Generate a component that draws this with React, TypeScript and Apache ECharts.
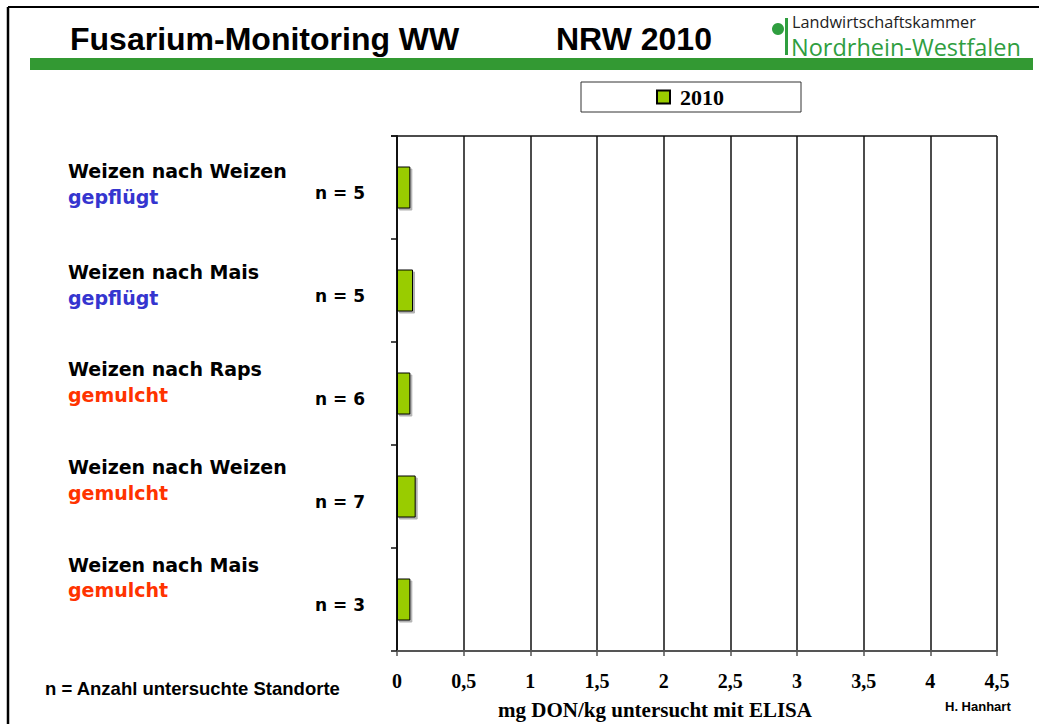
import React, { useEffect, useRef } from "react";
import * as echarts from "echarts";

// ---- data ----
const categories = ["Weizen nach Weizen", "Weizen nach Mais", "Weizen nach Raps", "Weizen nach Weizen", "Weizen nach Mais"];
const tillage = ["gepflügt", "gepflügt", "gemulcht", "gemulcht", "gemulcht"];
const sampleCounts = [5, 5, 6, 7, 3];
const don2010 = [0.1, 0.12, 0.1, 0.14, 0.1];
const seriesName = "2010";
const xMin = 0;
const xMax = 4.5;
const xStep = 0.5;

// ---- layout (positions only) ----
const nameY = [171, 272, 369, 467, 565];
const tillageY = [197, 298, 395, 493, 590];
const tillageColor: Record<string, string> = { "gepflügt": "#3535cf", "gemulcht": "#ff3300" };

const SANS = "'Liberation Sans', Arial, sans-serif";
const WIDE = "'DejaVu Sans', Verdana, sans-serif";
const SERIF = "'Liberation Serif', 'Times New Roman', serif";

export default function App() {
  const ref = useRef<HTMLDivElement>(null);
  useEffect(() => {
    if (!ref.current) return;
    const chart = echarts.init(ref.current, undefined, { renderer: "svg" });
    const yData = categories.map((c, i) => `${c} ${tillage[i]}`);
    const graphic: any[] = [
      // page frame
      { type: "line", shape: { x1: 8, y1: 7, x2: 1039, y2: 7 }, style: { stroke: "#000", lineWidth: 2 } },
      { type: "line", shape: { x1: 8, y1: 7, x2: 8, y2: 724 }, style: { stroke: "#000", lineWidth: 2.5 } },
      // green header bar
      { type: "rect", shape: { x: 30, y: 58, width: 1003, height: 12 }, style: { fill: "#339933" } },
      // title
      { type: "text", x: 70, y: 39, style: { text: "Fusarium-Monitoring WW", font: `bold 32px ${SANS}`, fill: "#000", verticalAlign: "middle" } },
      { type: "text", x: 556, y: 39, style: { text: "NRW 2010", font: `bold 32px ${SANS}`, fill: "#000", verticalAlign: "middle" } },
      // logo
      { type: "circle", shape: { cx: 778, cy: 29, r: 6 }, style: { fill: "#2f9e3f" } },
      { type: "rect", shape: { x: 785, y: 18, width: 3, height: 37 }, style: { fill: "#2f9e3f" } },
      { type: "text", x: 792, y: 21.5, style: { text: "Landwirtschaftskammer", font: `16.3px 'Open Sans', sans-serif`, lineHeight: 17, fill: "#222", verticalAlign: "middle" } },
      { type: "text", x: 791, y: 47, style: { text: "Nordrhein-Westfalen", font: `500 23.5px 'Open Sans', sans-serif`, lineHeight: 23, fill: "#2f9e3f", verticalAlign: "middle" } },
      // footnotes
      { type: "text", x: 45, y: 688, style: { text: "n = Anzahl untersuchte Standorte", font: `bold 18.5px ${SANS}`, fill: "#000", verticalAlign: "middle" } },
      { type: "text", x: 655, y: 710, style: { text: "mg DON/kg untersucht mit ELISA", font: `bold 21px ${SERIF}`, fill: "#000", align: "center", verticalAlign: "middle" } },
      { type: "text", x: 945, y: 706, style: { text: "H. Hanhart", font: `bold 13px ${SANS}`, fill: "#000", verticalAlign: "middle" } },
    ];
    categories.forEach((c, i) => {
      graphic.push({ type: "text", x: 68, y: nameY[i], style: { text: c, font: `bold 19px ${WIDE}`, fill: "#000", verticalAlign: "middle" } });
      graphic.push({ type: "text", x: 68, y: tillageY[i], style: { text: tillage[i], font: `bold 19px ${WIDE}`, fill: tillageColor[tillage[i]], verticalAlign: "middle" } });
    });
    // top frame line of plot area
    graphic.push({ type: "line", shape: { x1: 391, y1: 136, x2: 997, y2: 136 }, style: { stroke: "#111", lineWidth: 1.5 } });

    chart.setOption({
      animation: false,
      backgroundColor: "#fff",
      grid: { left: 397, right: 42, top: 136, bottom: 73, containLabel: false },
      legend: {
        data: [seriesName],
        left: 581,
        top: 82,
        padding: [4, 77, 4, 75],
        borderWidth: 1,
        borderColor: "#333",
        backgroundColor: "#fff",
        itemWidth: 13,
        itemHeight: 13,
        icon: "rect",
        textStyle: { fontFamily: SERIF, fontWeight: "bold", fontSize: 22, color: "#000", padding: [0, 0, 0, 5] },
      },
      xAxis: {
        type: "value",
        min: xMin,
        max: xMax,
        interval: xStep,
        axisLine: { show: true, lineStyle: { color: "#555", width: 2 } },
        axisTick: { show: true, length: 5, lineStyle: { color: "#555", width: 1.5 } },
        splitLine: { show: true, lineStyle: { color: "#111", width: 1.5 } },
        axisLabel: {
          margin: 20,
          fontFamily: SERIF,
          fontWeight: "bold",
          fontSize: 20,
          color: "#000",
          formatter: (v: number) => String(v).replace(".", ","),
        },
      },
      yAxis: {
        type: "category",
        inverse: true,
        data: yData,
        axisLine: { show: true, lineStyle: { color: "#111", width: 2 } },
        axisTick: { show: true, length: 6, lineStyle: { color: "#111", width: 1.5 } },
        axisLabel: {
          margin: 32,
          fontFamily: WIDE,
          fontWeight: "bold",
          fontSize: 17,
          color: "#000",
          verticalAlign: "top",
          lineHeight: 10,
          formatter: (_v: string, i: number) => `n = ${sampleCounts[i]}`,
        },
        splitLine: { show: false },
      },
      graphic: graphic,
      series: [
        {
          name: seriesName,
          type: "bar",
          data: don2010,
          barWidth: 42,
          itemStyle: {
            color: "#99cc00",
            borderColor: "#000",
            borderWidth: 1,
            shadowColor: "rgba(0,0,0,0.3)",
            shadowOffsetX: 2,
            shadowOffsetY: 2,
            shadowBlur: 1,
          },
        },
      ],
    });
    return () => chart.dispose();
  }, []);
  return <div ref={ref} style={{ position: "fixed", left: 0, top: 0, width: 1039, height: 724 }} />;
}
